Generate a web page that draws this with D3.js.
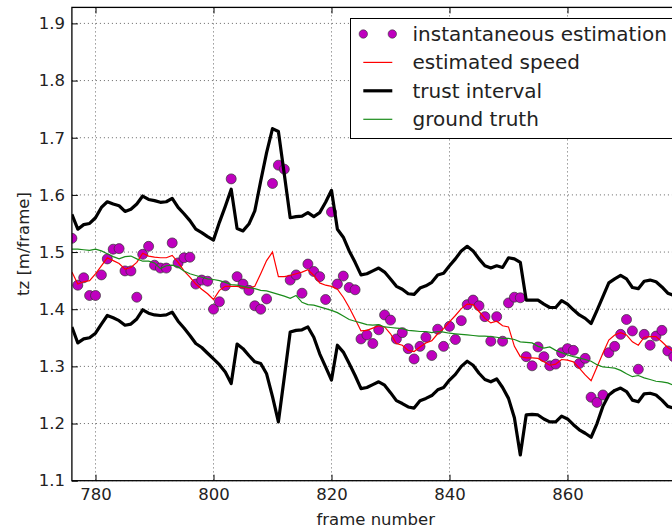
<!DOCTYPE html>
<html>
<head>
<meta charset="utf-8">
<script src="https://cdn.jsdelivr.net/npm/d3@7"></script>
<style>
  html, body { margin: 0; padding: 0; background: #fff; overflow: hidden; }
  svg { display: block; font-family: "DejaVu Sans", sans-serif; }
</style>
</head>
<body>
<svg id="chart" width="672" height="529"></svg>
<script>
// Frame numbers covered by the series
const frameStart = 776;
const frameEnd = 878;

// Per-frame speed estimate (instantaneous)
const instantEstimate = [
  1.524, 1.442, 1.455, 1.424, 1.424, 1.460, 1.488, 1.505, 1.506, 1.467,
  1.467, 1.421, 1.496, 1.510, 1.477, 1.472, 1.472, 1.516, 1.481, 1.490,
  1.491, 1.444, 1.451, 1.449, 1.400, 1.413, 1.441, 1.628, 1.457, 1.444,
  1.433, 1.406, 1.400, 1.418, 1.620, 1.652, 1.645, 1.451, 1.460, 1.428,
  1.479, 1.466, 1.457, 1.417, 1.570, 1.444, 1.458, 1.438, 1.434, 1.348,
  1.355, 1.340, 1.364, 1.390, 1.381, 1.348, 1.359, 1.331, 1.313, 1.335,
  1.351, 1.319, 1.365, 1.335, 1.370, 1.347, 1.380, 1.408, 1.416, 1.406,
  1.387, 1.344, 1.387, 1.344, 1.411, 1.421, 1.420, 1.317, 1.301, 1.334,
  1.317, 1.301, 1.304, 1.324, 1.331, 1.328, 1.305, 1.314, 1.246, 1.237,
  1.250, 1.324, 1.335, 1.356, 1.382, 1.362, 1.295, 1.356, 1.337, 1.353,
  1.363, 1.327, 1.317
];

// Filtered speed estimate
const estimatedSpeed = [
  1.465, 1.444, 1.448, 1.450, 1.462, 1.476, 1.490, 1.485, 1.480, 1.470,
  1.473, 1.482, 1.498, 1.493, 1.491, 1.490, 1.490, 1.494, 1.482, 1.467,
  1.456, 1.444, 1.435, 1.427, 1.417, 1.433, 1.440, 1.440, 1.440, 1.438,
  1.437, 1.440, 1.462, 1.485, 1.500, 1.457, 1.457, 1.459, 1.462, 1.465,
  1.469, 1.459, 1.446, 1.442, 1.440, 1.435, 1.421, 1.403, 1.383, 1.362,
  1.363, 1.367, 1.371, 1.369, 1.357, 1.340, 1.337, 1.328, 1.326, 1.334,
  1.341, 1.345, 1.357, 1.366, 1.378, 1.389, 1.401, 1.409, 1.408, 1.396,
  1.384, 1.376, 1.379, 1.371, 1.369, 1.335, 1.317, 1.315, 1.315, 1.314,
  1.308, 1.302, 1.304, 1.312, 1.311, 1.308, 1.297, 1.285, 1.275, 1.299,
  1.323, 1.346, 1.355, 1.359, 1.355, 1.343, 1.337, 1.351, 1.352, 1.352,
  1.343, 1.333, 1.326
];

// Upper bound of the trust interval
const trustUpper = [
  1.566, 1.540, 1.548, 1.550, 1.560, 1.578, 1.588, 1.584, 1.581, 1.571,
  1.575, 1.584, 1.598, 1.592, 1.590, 1.587, 1.588, 1.594, 1.578, 1.567,
  1.555, 1.540, 1.534, 1.527, 1.521, 1.552, 1.580, 1.610, 1.541, 1.537,
  1.549, 1.572, 1.624, 1.674, 1.716, 1.711, 1.636, 1.560, 1.562, 1.563,
  1.569, 1.562, 1.569, 1.587, 1.608, 1.540, 1.526, 1.502, 1.482, 1.460,
  1.462, 1.467, 1.472, 1.465, 1.453, 1.440, 1.435, 1.427, 1.426, 1.437,
  1.441, 1.447, 1.460, 1.463, 1.476, 1.488, 1.502, 1.510, 1.502, 1.488,
  1.476, 1.472, 1.476, 1.473, 1.490, 1.488, 1.482, 1.416, 1.416, 1.416,
  1.409, 1.403, 1.403, 1.415, 1.409, 1.399, 1.390, 1.384, 1.375, 1.398,
  1.422, 1.446, 1.453, 1.459, 1.453, 1.438, 1.436, 1.449, 1.451, 1.448,
  1.439, 1.428, 1.424
];

// Lower bound of the trust interval
const trustLower = [
  1.369, 1.341, 1.348, 1.350, 1.358, 1.374, 1.389, 1.385, 1.380, 1.372,
  1.374, 1.383, 1.399, 1.393, 1.390, 1.389, 1.390, 1.395, 1.379, 1.367,
  1.354, 1.340, 1.333, 1.323, 1.313, 1.303, 1.290, 1.270, 1.339, 1.331,
  1.319, 1.308, 1.305, 1.287, 1.247, 1.203, 1.281, 1.360, 1.363, 1.364,
  1.369, 1.351, 1.322, 1.299, 1.276, 1.337, 1.325, 1.305, 1.284, 1.261,
  1.263, 1.268, 1.273, 1.267, 1.254, 1.240, 1.235, 1.229, 1.227, 1.240,
  1.244, 1.249, 1.259, 1.263, 1.276, 1.286, 1.300, 1.309, 1.302, 1.288,
  1.277, 1.273, 1.278, 1.263, 1.244, 1.210, 1.145, 1.215, 1.216, 1.215,
  1.208, 1.203, 1.203, 1.213, 1.208, 1.198, 1.189, 1.183, 1.176, 1.200,
  1.230, 1.250, 1.258, 1.262, 1.256, 1.241, 1.238, 1.252, 1.253, 1.250,
  1.241, 1.230, 1.227
];

// Reference speed
const groundTruth = [
  1.505, 1.505, 1.504, 1.503, 1.505, 1.502, 1.497, 1.492, 1.488, 1.492,
  1.493, 1.488, 1.484, 1.484, 1.481, 1.471, 1.476, 1.477, 1.474, 1.467,
  1.462, 1.459, 1.456, 1.453, 1.452, 1.450, 1.447, 1.443, 1.442, 1.440,
  1.438, 1.436, 1.433, 1.432, 1.429, 1.426, 1.423, 1.419, 1.424, 1.412,
  1.408, 1.407, 1.404, 1.401, 1.398, 1.394, 1.388, 1.382, 1.379, 1.376,
  1.373, 1.372, 1.373, 1.369, 1.368, 1.367, 1.366, 1.363, 1.362, 1.361,
  1.361, 1.359, 1.361, 1.360, 1.358, 1.357, 1.356, 1.355, 1.354, 1.353,
  1.353, 1.352, 1.351, 1.349, 1.349, 1.347, 1.343, 1.342, 1.341, 1.335,
  1.332, 1.334, 1.328, 1.324, 1.320, 1.317, 1.315, 1.312, 1.309, 1.303,
  1.299, 1.298, 1.297, 1.293, 1.287, 1.282, 1.284, 1.280, 1.277, 1.274,
  1.273, 1.271, 1.267
];

const xTicks = [780, 800, 820, 840, 860];
const yTicks = [1.1, 1.2, 1.3, 1.4, 1.5, 1.6, 1.7, 1.8, 1.9];
const legendLabels = ["instantaneous estimation", "estimated speed", "trust interval", "ground truth"];

const frames = d3.range(frameStart, frameEnd + 1);

const plot = { left: 71.9, right: 679.6, top: 7.4, bottom: 480.7 };
const x = d3.scaleLinear().domain([776, 879]).range([plot.left, plot.right]);
const y = d3.scaleLinear().domain([1.1, 1.928]).range([plot.bottom, plot.top]);

const svg = d3.select("#chart");

svg.append("defs").append("clipPath").attr("id", "plotClip")
  .append("rect")
  .attr("x", plot.left).attr("y", plot.top)
  .attr("width", plot.right - plot.left).attr("height", plot.bottom - plot.top);

// Dotted grid
const grid = svg.append("g").attr("class", "grid")
  .attr("stroke", "#000").attr("stroke-width", 0.8)
  .attr("stroke-dasharray", "1,3").attr("opacity", 0.75);
grid.selectAll("line.gx").data(xTicks).join("line")
  .attr("x1", d => x(d)).attr("x2", d => x(d))
  .attr("y1", plot.top).attr("y2", plot.bottom);
grid.selectAll("line.gy").data(yTicks).join("line")
  .attr("x1", plot.left).attr("x2", plot.right)
  .attr("y1", d => y(d)).attr("y2", d => y(d));

const dataLayer = svg.append("g").attr("clip-path", "url(#plotClip)");

// Instantaneous estimates
dataLayer.append("g").selectAll("circle")
  .data(frames.map((f, i) => [f, instantEstimate[i]]))
  .join("circle")
  .attr("cx", d => x(d[0]))
  .attr("cy", d => y(d[1]))
  .attr("r", 5)
  .attr("fill", "#bf00bf")
  .attr("stroke", "#333")
  .attr("stroke-width", 0.7);

const line = d3.line().x(d => x(d[0])).y(d => y(d[1]));
const series = arr => frames.map((f, i) => [f, arr[i]]);

dataLayer.append("path").datum(series(estimatedSpeed))
  .attr("d", line).attr("fill", "none")
  .attr("stroke", "#ff0000").attr("stroke-width", 1.2);

[trustUpper, trustLower].forEach(arr => {
  dataLayer.append("path").datum(series(arr))
    .attr("d", line).attr("fill", "none")
    .attr("stroke", "#000").attr("stroke-width", 3.2)
    .attr("stroke-linejoin", "round");
});

dataLayer.append("path").datum(series(groundTruth))
  .attr("d", line).attr("fill", "none")
  .attr("stroke", "#1a8c1a").attr("stroke-width", 1.2);

// Axes with inward ticks
const fontSize = 16.5;
const xAxis = svg.append("g")
  .attr("transform", `translate(0,${plot.bottom})`)
  .call(d3.axisBottom(x).tickValues(xTicks)
    .tickSize(-6).tickPadding(8).tickFormat(d3.format("d")));
const xAxisTop = svg.append("g")
  .attr("transform", `translate(0,${plot.top})`)
  .call(d3.axisTop(x).tickValues(xTicks)
    .tickSize(-6).tickFormat(""));
const yAxis = svg.append("g")
  .attr("transform", `translate(${plot.left},0)`)
  .call(d3.axisLeft(y).tickValues(yTicks)
    .tickSize(-6).tickPadding(7).tickFormat(d3.format(".1f")));
const yAxisRight = svg.append("g")
  .attr("transform", `translate(${plot.right},0)`)
  .call(d3.axisRight(y).tickValues(yTicks)
    .tickSize(-6).tickFormat(""));

[xAxis, xAxisTop, yAxis, yAxisRight].forEach(g => {
  g.select(".domain").remove();
  g.selectAll(".tick line").attr("stroke", "#000").attr("stroke-width", 1);
  g.selectAll("text")
    .attr("font-family", "DejaVu Sans, sans-serif")
    .attr("font-size", fontSize)
    .attr("fill", "#222");
});

// Frame of the axes
svg.append("rect")
  .attr("x", plot.left).attr("y", plot.top)
  .attr("width", plot.right - plot.left).attr("height", plot.bottom - plot.top)
  .attr("fill", "none").attr("stroke", "#000").attr("stroke-width", 1.3);

// Axis titles
svg.append("text")
  .attr("x", (plot.left + plot.right) / 2).attr("y", 525)
  .attr("text-anchor", "middle")
  .attr("font-size", fontSize).attr("fill", "#222")
  .text("frame number");

svg.append("text")
  .attr("transform", `translate(28.5,${(plot.top + plot.bottom) / 2}) rotate(-90)`)
  .attr("text-anchor", "middle")
  .attr("font-size", fontSize).attr("fill", "#222")
  .text("tz [m/frame]");

// Legend
const legend = svg.append("g");
legend.append("rect")
  .attr("x", 350.5).attr("y", 18.5)
  .attr("width", 323).attr("height", 120)
  .attr("fill", "#fff").attr("stroke", "#000").attr("stroke-width", 1);

const rowY = [34, 62.4, 90.8, 119.3];
const hx0 = 363.3, hx1 = 392.3;

legend.selectAll("circle.lg").data([hx0, hx1]).join("circle")
  .attr("cx", d => d).attr("cy", rowY[0]).attr("r", 4.2)
  .attr("fill", "#bf00bf").attr("stroke", "#333").attr("stroke-width", 0.6);

const legendLines = [
  { row: 1, color: "#ff0000", width: 1.2 },
  { row: 2, color: "#000", width: 3.2 },
  { row: 3, color: "#1a8c1a", width: 1.2 }
];
legend.selectAll("line.lg").data(legendLines).join("line")
  .attr("x1", hx0).attr("x2", hx1)
  .attr("y1", d => rowY[d.row]).attr("y2", d => rowY[d.row])
  .attr("stroke", d => d.color).attr("stroke-width", d => d.width);

legend.selectAll("text.lg").data(legendLabels).join("text")
  .attr("x", 412.5)
  .attr("y", (d, i) => rowY[i] + 6.8)
  .attr("font-size", 20).attr("fill", "#222")
  .text(d => d);
</script>
</body>
</html>
